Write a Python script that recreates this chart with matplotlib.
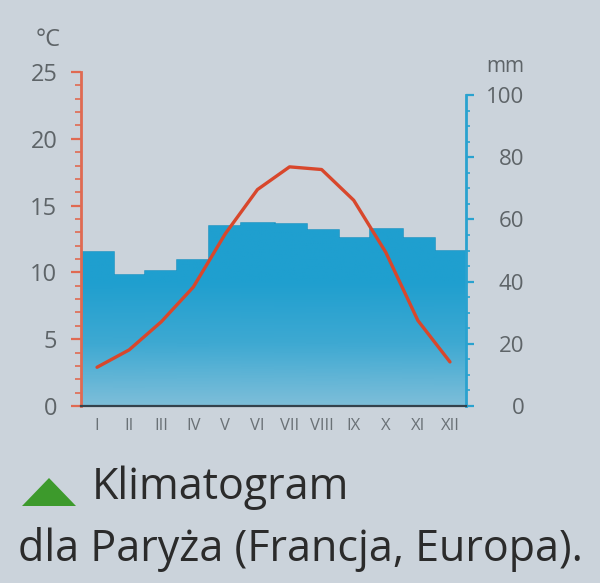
import numpy as np
import matplotlib.pyplot as plt
from matplotlib.colors import LinearSegmentedColormap
from matplotlib.patches import Polygon

# Paris climate data.
months = ["I", "II", "III", "IV", "V", "VI", "VII", "VIII", "IX", "X", "XI", "XII"]
temp_c = [2.9, 4.2, 6.3, 8.9, 12.9, 16.2, 17.9, 17.7, 15.4, 11.5, 6.4, 3.3]
precip_mm = [49.5, 42, 43.5, 47, 58, 59, 58.5, 56.5, 54, 57, 54, 50]

BG = "#cbd3db"
RED = "#d8472c"
SPINE_RED = "#e06a52"
BLUE = "#2aa2cf"
TXT = "#5e6468"
W, H = 600, 583

plt.rcParams['font.family'] = ['Open Sans', 'DejaVu Sans']

fig = plt.figure(figsize=(6, 5.83), dpi=100, facecolor=BG)
ax = fig.add_axes([81 / W, 177 / H, 385 / W, 334 / H])
ax.set_facecolor("none")
ax2 = ax.twinx()
ax.set_zorder(ax2.get_zorder() + 1)
ax.patch.set_visible(False)

x = np.arange(1, 13)

# precipitation bars with a vertical gradient
ax2.set_ylim(0, 107.4)
ax2.set_xlim(0.5, 12.5)
cmap = LinearSegmentedColormap.from_list("pr", ["#7dbed9", "#3ea9d2", "#1f9fcf", "#1f9fcf"])
bars = ax2.bar(x, precip_mm, width=1.0, color="none", edgecolor="#1893c3", linewidth=1.8)
for b, h in zip(bars, precip_mm):
    grad = np.linspace(h, 0, 100).reshape(-1, 1) / 60.0
    im = ax2.imshow(grad, extent=[b.get_x(), b.get_x() + 1.0, 0, h], aspect="auto",
                    cmap=cmap, vmin=0, vmax=1, zorder=1)
    im.set_clip_path(b)

# temperature line
ax.plot(x, temp_c, color=RED, linewidth=2.4, solid_joinstyle="round",
        solid_capstyle="round", zorder=5)
ax.set_ylim(0, 25)
ax.set_xlim(0.5, 12.5)

# left axis (temperature)
for s in ["top", "right"]:
    ax.spines[s].set_visible(False)
    ax2.spines[s].set_visible(False)
ax2.spines["left"].set_visible(False)
ax2.spines["bottom"].set_visible(False)
ax.spines["left"].set_color(SPINE_RED)
ax.spines["left"].set_linewidth(2)
ax.spines["bottom"].set_color("#34424c")
ax.spines["bottom"].set_linewidth(1.6)
ax.set_yticks([0, 5, 10, 15, 20, 25])
ax.set_yticks(np.arange(0, 26, 1), minor=True)
ax.tick_params(axis="y", which="major", length=7, width=1.6, color=SPINE_RED,
               labelsize=17, labelcolor=TXT, pad=10)
ax.tick_params(axis="y", which="minor", length=4, width=1.2, color=SPINE_RED)
ax.set_xticks(x)
ax.set_xticklabels(months)
ax.tick_params(axis="x", length=0, labelsize=12, labelcolor="#6a7176", pad=9)

# right axis (precipitation)
ax2.spines["right"].set_visible(True)
ax2.spines["right"].set_color(BLUE)
ax2.spines["right"].set_linewidth(2)
ax2.spines["right"].set_bounds(0, 100)
ax2.set_yticks([0, 20, 40, 60, 80, 100])
ax2.set_yticks(np.arange(0, 101, 5), minor=True)
ax2.tick_params(axis="y", which="major", length=6, width=1.6, color=BLUE,
                labelsize=16, labelcolor=TXT, pad=36)
ax2.tick_params(axis="y", which="minor", length=3, width=1.2, color=BLUE)
for lbl in ax2.get_yticklabels():
    lbl.set_horizontalalignment("right")

fig.text(48 / W, 1 - 40 / H, "°C", fontsize=17, color=TXT, ha="center", va="center")
fig.text(505 / W, 1 - 66 / H, "mm", fontsize=15, color=TXT, ha="center", va="center")

# caption with green triangle
tri = Polygon([[22 / W, 1 - 506 / H], [76 / W, 1 - 506 / H], [49 / W, 1 - 478 / H]],
              closed=True, transform=fig.transFigure, facecolor="#3d9a2c", edgecolor="none")
fig.patches.append(tri)
fig.text(92 / W, 1 - 488 / H, "Klimatogram", fontsize=31, color="#2b2b2b",
         ha="left", va="center")
fig.text(18 / W, 1 - 550 / H, "dla Paryża (Francja, Europa).", fontsize=31,
         color="#2b2b2b", ha="left", va="center")

fig.savefig("out.png", dpi=100, facecolor=BG)
